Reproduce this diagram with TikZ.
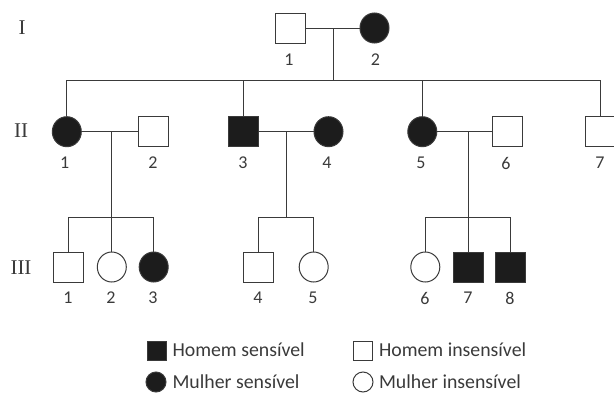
\documentclass[tikz,border=0pt]{standalone}
\usepackage{fontspec}
\setmainfont{Carlito}
\newfontfamily\romfont{Liberation Serif}
\usetikzlibrary{shapes.geometric}
\definecolor{ink}{HTML}{3A3A3A}
\definecolor{fillk}{HTML}{1C1C1C}
\tikzset{
  base/.style={draw=ink, line width=1pt, inner sep=0pt},
  male/.style={base, rectangle, minimum width=30pt, minimum height=30pt},
  female/.style={base, ellipse, minimum width=29pt, minimum height=30pt},
  aff/.style={fill=fillk},
  lmale/.style={base, rectangle, minimum width=19pt, minimum height=19pt},
  lfemale/.style={base, circle, minimum size=20pt},
  conn/.style={draw=ink, line width=0.9pt},
  num/.style={font=\fontsize{18}{20}\selectfont, text=ink},
  gen/.style={font=\romfont\fontsize{21}{23}\selectfont, text=ink},
  leg/.style={font=\fontsize{19.8}{22}\selectfont, text=ink, anchor=west}
}
\begin{document}
\begin{tikzpicture}[x=1pt,y=-1pt]
\useasboundingbox (0,0) rectangle (614,394);
% generation labels
\node[gen] (gI) at (22,28) {I};
\node[gen] (gII) at (21,131) {II};
\node[gen] (gIII) at (21,268) {III};
% generation I
\node[male] (I1) at (290,28) {};
\node[female,aff] (I2) at (374.5,28) {};
\node[num] (nI1) at (289,60) {1};
\node[num] (nI2) at (375.5,60) {2};
% generation II
\node[female,aff] (II1) at (66.8,131.7) {};
\node[male] (II2) at (153.7,131.7) {};
\node[male,aff] (II3) at (243.5,131.7) {};
\node[female,aff] (II4) at (328.5,131.7) {};
\node[female,aff] (II5) at (422.3,131.7) {};
\node[male] (II6) at (507,131.7) {};
\node[male] (II7) at (600.4,131.7) {};
\node[num] (nII1) at (64.7,163) {1};
\node[num] (nII2) at (153,163) {2};
\node[num] (nII3) at (243,163) {3};
\node[num] (nII4) at (327,163) {4};
\node[num] (nII5) at (421,163) {5};
\node[num] (nII6) at (506,163) {6};
\node[num] (nII7) at (600,163) {7};
% generation III
\node[male] (III1) at (68.6,267) {};
\node[female] (III2) at (111.8,267) {};
\node[female,aff] (III3) at (153.7,267) {};
\node[male] (III4) at (258.8,267) {};
\node[female] (III5) at (313.7,267) {};
\node[female] (III6) at (425.3,267) {};
\node[male,aff] (III7) at (468,267) {};
\node[male,aff] (III8) at (510,267) {};
\node[num] (nIII1) at (68,298) {1};
\node[num] (nIII2) at (111,298) {2};
\node[num] (nIII3) at (153,298) {3};
\node[num] (nIII4) at (258,298) {4};
\node[num] (nIII5) at (313,298) {5};
\node[num] (nIII6) at (425,298) {6};
\node[num] (nIII7) at (468,298) {7};
\node[num] (nIII8) at (510,298) {8};
% connectors generation I
\coordinate (mI) at (333,28);
\coordinate (sI) at (333,80);
\draw[conn] (I1) -- (I2);
\draw[conn] (mI) -- (sI);
\draw[conn] (II1.north) |- (sI);
\draw[conn] (II3.north) |- (sI);
\draw[conn] (II5.north) |- (sI);
\draw[conn] (II7.north) |- (sI);
% family 1
\coordinate (m1) at (111.8,131.7);
\coordinate (s1) at (111.8,217.7);
\draw[conn] (II1) -- (II2);
\draw[conn] (m1) -- (III2.north);
\draw[conn] (III1.north) |- (s1);
\draw[conn] (III3.north) |- (s1);
% family 2
\coordinate (m2) at (286,131.7);
\coordinate (s2) at (286,217.7);
\draw[conn] (II3) -- (II4);
\draw[conn] (m2) -- (s2);
\draw[conn] (III4.north) |- (s2);
\draw[conn] (III5.north) |- (s2);
% family 3
\coordinate (m3) at (468,131.7);
\coordinate (s3) at (468,217.7);
\draw[conn] (II5) -- (II6);
\draw[conn] (m3) -- (III7.north);
\draw[conn] (III6.north) |- (s3);
\draw[conn] (III8.north) |- (s3);
% legend
\node[lmale,aff] (L1) at (156.5,350.5) {};
\node[leg] (T1) at (169,350) {Homem sensível};
\node[lmale] (L2) at (363,350.5) {};
\node[leg] (T2) at (375.5,350) {Homem insensível};
\node[lfemale,aff] (L3) at (156,382) {};
\node[leg] (T3) at (169,382) {Mulher sensível};
\node[lfemale] (L4) at (363,382) {};
\node[leg] (T4) at (375.5,382) {Mulher insensível};
\end{tikzpicture}
\end{document}
